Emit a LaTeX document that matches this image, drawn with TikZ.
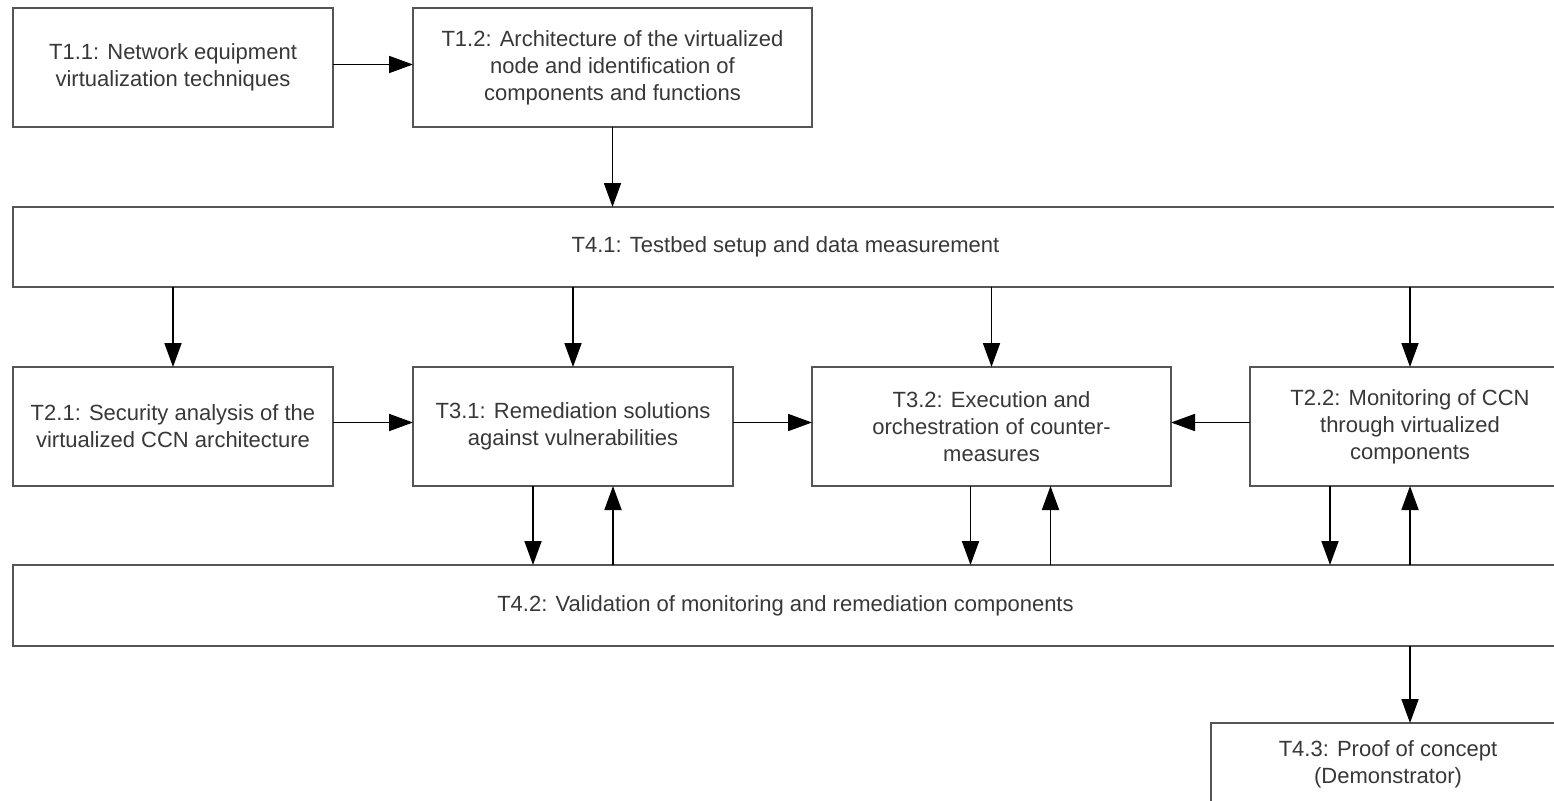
\documentclass[tikz,border=0pt]{standalone}
\usepackage{fontspec}
\setmainfont{Liberation Sans}
\usetikzlibrary{arrows.meta}
\definecolor{boxline}{HTML}{555555}
\definecolor{boxtext}{HTML}{383838}
\tikzset{
  task/.style={draw=boxline, line width=2.2pt, fill=white, rectangle, align=center,
    text=boxtext, font=\fontsize{22}{27}\selectfont, inner sep=0pt, outer sep=0pt,
    anchor=north west},
  flow/.style={draw=black, line width=1.8pt, -{Triangle[length=24pt,width=17pt]}}
}
\begin{document}
\begin{tikzpicture}[x=1pt,y=-1pt]
\useasboundingbox (0,0) rectangle (1554,800);
\clip (0,0) rectangle (1554,800);
% first row: preparatory tasks
\node[task, minimum width=320pt, minimum height=119pt] (t11) at (13,8)
  {T1.1: Network equipment\\virtualization techniques};
\node[task, minimum width=399pt, minimum height=119pt] (t12) at (413,8)
  {T1.2: Architecture of the virtualized\\node and identification of\\components and functions};
% testbed bar
\node[task, minimum width=1545pt, minimum height=80pt] (t41) at (13,207)
  {T4.1: Testbed setup and data measurement};
% middle row
\node[task, minimum width=320pt, minimum height=119pt] (t21) at (13,367)
  {T2.1: Security analysis of the\\virtualized CCN architecture};
\node[task, minimum width=320pt, minimum height=119pt] (t31) at (413,367)
  {T3.1: Remediation solutions\\against vulnerabilities};
\node[task, minimum width=359pt, minimum height=119pt] (t32) at (812,367)
  {T3.2: Execution and\\orchestration of counter-\\measures};
\node[task, minimum width=320pt, minimum height=119pt] (t22) at (1250,367)
  {T2.2: Monitoring of CCN\\through virtualized\\components};
% validation bar
\node[task, minimum width=1545pt, minimum height=81pt] (t42) at (13,565)
  {T4.2: Validation of monitoring and remediation components};
% proof of concept
\node[task, minimum width=354pt, minimum height=82pt] (t43) at (1211,723)
  {T4.3: Proof of concept\\(Demonstrator)};

% connectors
\draw[flow] ([yshift=3pt]t11.east) -- ([yshift=3pt]t12.west);
\draw[flow] (t12.south) -- (t12.south |- t41.north);
\draw[flow] (t21.north |- t41.south) -- (t21.north);
\draw[flow] (t31.north |- t41.south) -- (t31.north);
\draw[flow] (t32.north |- t41.south) -- (t32.north);
\draw[flow] (t22.north |- t41.south) -- (t22.north);
\draw[flow] ([yshift=4pt]t21.east) -- ([yshift=4pt]t31.west);
\draw[flow] ([yshift=4pt]t31.east) -- ([yshift=4pt]t32.west);
\draw[flow] ([yshift=4pt]t22.west) -- ([yshift=4pt]t32.east);
\draw[flow] ([xshift=-40pt]t31.south) -- ([xshift=-40pt]t31.south |- t42.north);
\draw[flow] ([xshift=40pt]t31.south |- t42.north) -- ([xshift=40pt]t31.south);
\draw[flow] ([xshift=-21pt]t32.south) -- ([xshift=-21pt]t32.south |- t42.north);
\draw[flow] ([xshift=59pt]t32.south |- t42.north) -- ([xshift=59pt]t32.south);
\draw[flow] ([xshift=-80pt]t22.south) -- ([xshift=-80pt]t22.south |- t42.north);
\draw[flow] (t22.south |- t42.north) -- (t22.south);
\draw[flow] (t42.south -| t22.south) -- (t22.south |- t43.north);
\end{tikzpicture}
\end{document}
